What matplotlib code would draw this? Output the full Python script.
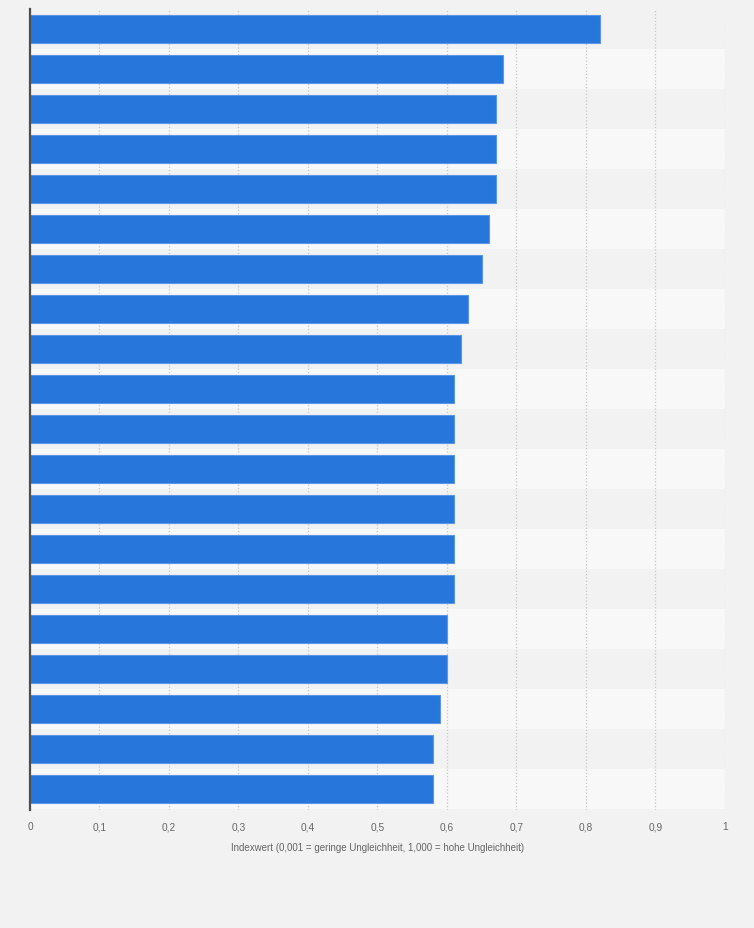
import matplotlib
matplotlib.use("Agg")
import matplotlib.pyplot as plt
from matplotlib.ticker import FuncFormatter

# Indexwerte, von oben nach unten
werte = [0.82, 0.68, 0.67, 0.67, 0.67, 0.66, 0.65, 0.63, 0.62, 0.61,
         0.61, 0.61, 0.61, 0.61, 0.61, 0.60, 0.60, 0.59, 0.58, 0.58]
x_ticks = [0, 0.1, 0.2, 0.3, 0.4, 0.5, 0.6, 0.7, 0.8, 0.9, 1.0]
x_titel = "Indexwert (0,001 = geringe Ungleichheit, 1,000 = hohe Ungleichheit)"

plt.rcParams['font.family'] = ['Liberation Sans', 'DejaVu Sans']

fig = plt.figure(figsize=(7.54, 9.29), dpi=100)
fig.patch.set_facecolor('#f2f2f2')
ax = fig.add_axes([30 / 754, 1 - 811 / 929, 695 / 754, 801 / 929])
ax.set_facecolor('#f2f2f2')

n = len(werte)
pos = list(range(n))

# abwechselnde Zeilenstreifen
for i in pos:
    if i % 2 == 1:
        ax.axhspan(i - 0.5, i + 0.5, color='#f8f8f8', zorder=0, lw=0)

ax.barh(pos, werte, height=0.7, color='#2776db', edgecolor='#5b96e6',
        linewidth=0.8, zorder=3)

ax.set_ylim(n - 0.5 + 0.03, -0.5)
ax.set_xlim(0, 1.0)
ax.set_xticks(x_ticks)
ax.xaxis.set_major_formatter(FuncFormatter(
    lambda v, p: ('%g' % round(v, 1)).replace('.', ',')))
ax.set_yticks([])

ax.grid(axis='x', linestyle=':', color='#c8c8c8', linewidth=0.9, zorder=1)
ax.set_axisbelow(True)

for s in ['top', 'right', 'bottom']:
    ax.spines[s].set_visible(False)
ax.spines['left'].set_color('#4d4d4d')
ax.spines['left'].set_linewidth(1.6)
ax.spines['left'].set_zorder(4)

ax.tick_params(axis='x', length=0, pad=8, labelsize=7.3, labelcolor='#666666')
ax.set_xlabel(x_titel, fontsize=7, color='#666666', labelpad=8)

fig.savefig('out.png', dpi=100, facecolor=fig.get_facecolor())
